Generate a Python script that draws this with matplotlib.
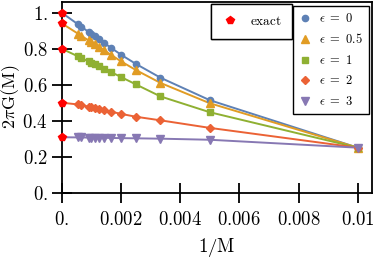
import matplotlib
matplotlib.use("Agg")
import matplotlib.pyplot as plt

plt.rcParams["mathtext.fontset"] = "cm"
plt.rcParams["font.family"] = ["DejaVu Serif"]

# 1/M sample points
inv_m = [1 / 1800, 1 / 1500, 1 / 1100, 1 / 1000, 1 / 900, 1 / 800, 1 / 700,
         1 / 600, 1 / 500, 1 / 400, 1 / 300, 1 / 200, 1 / 100]

eps_labels = ["0", "0.5", "1", "2", "3"]
g_eps0 = [0.935, 0.922, 0.893, 0.882, 0.869, 0.853, 0.832, 0.805, 0.767, 0.716, 0.639, 0.514, 0.25]
g_eps05 = [0.883, 0.871, 0.846, 0.836, 0.825, 0.810, 0.791, 0.766, 0.730, 0.682, 0.610, 0.497, 0.25]
g_eps1 = [0.757, 0.748, 0.729, 0.721, 0.713, 0.702, 0.688, 0.670, 0.643, 0.602, 0.535, 0.447, 0.25]
g_eps2 = [0.490, 0.487, 0.478, 0.474, 0.470, 0.465, 0.458, 0.450, 0.438, 0.422, 0.402, 0.360, 0.25]
g_eps3 = [0.307, 0.307, 0.306, 0.306, 0.306, 0.305, 0.305, 0.304, 0.303, 0.302, 0.300, 0.294, 0.25]
# M -> infinity values, one per epsilon
exact = [1.0, 0.941, 0.8, 0.5, 0.308]

xticks = [0, 0.002, 0.004, 0.006, 0.008, 0.01]
xtick_labels = ["0.", "0.002", "0.004", "0.006", "0.008", "0.01"]
yticks = [0, 0.2, 0.4, 0.6, 0.8, 1.0]
ytick_labels = ["0.", "0.2", "0.4", "0.6", "0.8", "1."]

series = [g_eps0, g_eps05, g_eps1, g_eps2, g_eps3]
colors = ["#5e81b5", "#e19c24", "#8fb032", "#eb6235", "#8778b3"]
markers = ["o", "^", "s", "D", "v"]
msizes = [4.5, 5.5, 4.2, 4.2, 5.5]

fig = plt.figure(figsize=(3.74, 2.6), dpi=100)
ax = fig.add_axes([0.165, 0.259, 0.8305, 0.735])

handles = []
for ys, g0, c, m, ms, lab in zip(series, exact, colors, markers, msizes, eps_labels):
    # the curve runs into the exact value at 1/M = 0
    ax.plot([0] + inv_m, [g0] + ys, color=c, lw=1.4, zorder=2)
    h = ax.plot(inv_m, ys, ls="none", marker=m, ms=ms, color=c, mec=c, zorder=3,
                label=r"$\epsilon\ =\ %s$" % lab)[0]
    handles.append(h)

hx = ax.plot([0] * len(exact), exact, ls="none", marker="p", ms=6, color="#ff0000",
             mec="#ff0000", clip_on=False, zorder=5, label=r"$\mathrm{exact}$")[0]

ax.set_xlim(0, 0.01049)
ax.set_ylim(0, 1.062)
ax.set_xticks(xticks)
ax.set_xticklabels(["$%s$" % t for t in xtick_labels])
ax.set_yticks(yticks)
ax.set_yticklabels(["$%s$" % t for t in ytick_labels])
ax.tick_params(direction="inout", length=14, width=1.3, labelsize=13.5, pad=3)
ax.tick_params(axis="x", pad=6)
for sp in ax.spines.values():
    sp.set_linewidth(1.3)

ax.set_xlabel(r"$1/\mathrm{M}$", fontsize=13.5, labelpad=5)
ax.set_ylabel(r"$2\pi\mathrm{G(M)}$", fontsize=13, labelpad=0)

leg1 = fig.legend(handles=[hx], loc="upper right", bbox_to_anchor=(0.780, 0.983),
                  fancybox=False, edgecolor="black", framealpha=1, fontsize=9.5,
                  handlelength=1.2, borderpad=0.8, handletextpad=0.9, borderaxespad=0)
leg2 = fig.legend(handles=handles, loc="upper right", bbox_to_anchor=(0.987, 0.978),
                  fancybox=False, edgecolor="black", framealpha=1, fontsize=9,
                  handlelength=1.0, labelspacing=0.6, borderpad=0.5, handletextpad=0.6,
                  borderaxespad=0)
fig.add_artist(leg1)

fig.savefig("out.png", dpi=100)
